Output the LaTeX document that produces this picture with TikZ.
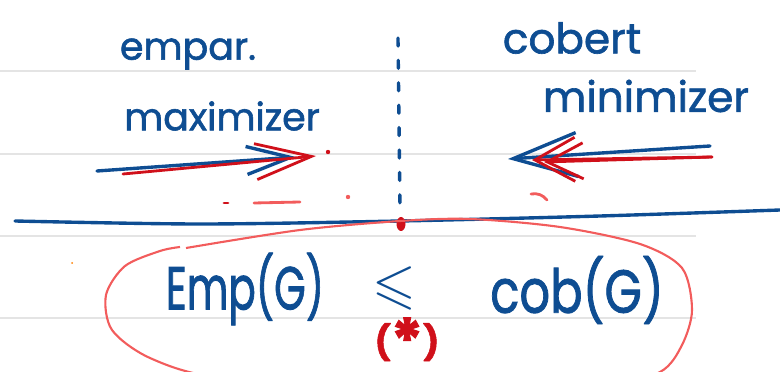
\documentclass[tikz,border=0pt]{standalone}
\usepackage{amsmath,amssymb}
\usepackage{fontspec}
\setmainfont{Poppins}
\newfontfamily\mano{Poppins}[FakeBold=1.5]
\usepackage{tikz}
\usetikzlibrary{positioning,arrows.meta}
\definecolor{ctinta}{HTML}{0E4D92}
\definecolor{crojo}{HTML}{D0101A}
\definecolor{crosa}{HTML}{F25C5C}
\definecolor{cguia}{HTML}{E4E4E4}
\newcommand{\alto}[2]{\scalebox{#1}[1.2]{#2}}
\tikzset{
  tinta/.style={text=ctinta, inner sep=0pt, font=\mano\fontsize{27}{29}\selectfont},
  grande/.style={text=ctinta, inner sep=0pt, font=\mano\fontsize{36}{38}\selectfont},
  rojo/.style={text=crojo, inner sep=0pt, font=\mano\bfseries\fontsize{24}{26}\selectfont},
  guia/.style={draw=cguia, line width=0.8pt},
  trazo/.style={draw=ctinta, line width=2.4pt, line cap=round},
  flecha/.style={trazo, -{Straight Barb[length=11mm, width=7mm]}},
  flechar/.style={draw=crojo, line width=2pt, line cap=round, -{Straight Barb[length=14mm, width=9mm]}},
  marca/.style={draw=crojo, line width=2pt, line cap=round},
  lazo/.style={draw=crosa, line width=1.5pt},
}

\begin{document}
\begin{tikzpicture}[x=0.025cm, y=-0.025cm]
  \useasboundingbox (0,0) rectangle (780,372);
  \clip (0,0) rectangle (780,372);
  % renglones del cuaderno
  \foreach \y in {71,154,236,318}
    \draw[guia] (0,\y) -- (696,\y);

  \node[tinta] (empar) at (188,54) {empar.};
  \node[tinta] (maxim) at (222,116) {maximizer};
  \node[tinta, font=\mano\fontsize{30}{32}\selectfont] (cobert) at (572,38) {cobert};
  \node[tinta, font=\mano\fontsize{30}{32}\selectfont] (minim) at (646,96) {minimizer};

  % eje punteado
  \coordinate (ejesup) at (398,38);
  \coordinate (ejeinf) at (400,208);
  \draw[trazo, dash pattern=on 2mm off 3.6mm] (ejesup) -- (ejeinf);

  % flechas
  \coordinate (izqcola) at (97,171);
  \coordinate (izqpunta) at (296,157);
  \coordinate (izqcolar) at (123,174);
  \coordinate (izqpuntar) at (316,156);
  \coordinate (dercola) at (710,146);
  \coordinate (derpunta) at (508,159);
  \coordinate (dercolar) at (712,157);
  \coordinate (derpuntar) at (532,160);
  \coordinate (derpuntar2) at (544,162);
  \draw[flecha] (izqcola) -- (izqpunta);
  \draw[flechar] (izqcolar) -- (izqpuntar);
  \draw[flecha, -{Straight Barb[length=16mm, width=11mm]}] (dercola) -- (derpunta);
  \draw[flechar, -{Straight Barb[length=10mm, width=11mm]}] (dercolar) -- (derpuntar);
  \draw[flechar, -{Straight Barb[length=9mm, width=9mm]}] (dercolar) -- (derpuntar2);

  % marcas rojas
  \fill[crojo] (328,152) circle (2.2);
  \draw[marca] (224,203) -- (228,203);
  \draw[marca, draw=crosa] (254,203) -- (300,202);
  \fill[crosa] (348,197) circle (2.2);
  \draw[marca, draw=crosa] (531,194) to[bend left=30] (547,200);
  \fill[orange] (72,263) circle (1);

  % recta
  \draw[trazo] plot[smooth] coordinates {(15,221) (200,224) (400,221) (600,216) (780,210)};
  \fill[crojo] (401,224) ellipse (4.5 and 7);

  % lazo
  \draw[lazo] plot[smooth] coordinates {(186,248) (300,230) (400,221) (470,219)
    (560,227) (640,244) (682,268) (692,310) (682,345) (660,372) (600,388)
    (400,392) (220,378) (150,358) (112,330) (106,295) (125,266) (160,251) (180,247)};

  \node[grande] (emp) at (245,289) {\alto{0.8}{Emp(G)}};
  \node[grande, font=\fontsize{40}{42}\selectfont] (menor) at (394,288) {$\boldsymbol{\leqslant}$};
  \node[grande] (cob) at (577,290) {\alto{0.95}{cob(G)}};
  \node[rojo] (ast) at (407,340) {(\raisebox{-0.45ex}{\scalebox{1.8}{*}})};
\end{tikzpicture}
\end{document}
